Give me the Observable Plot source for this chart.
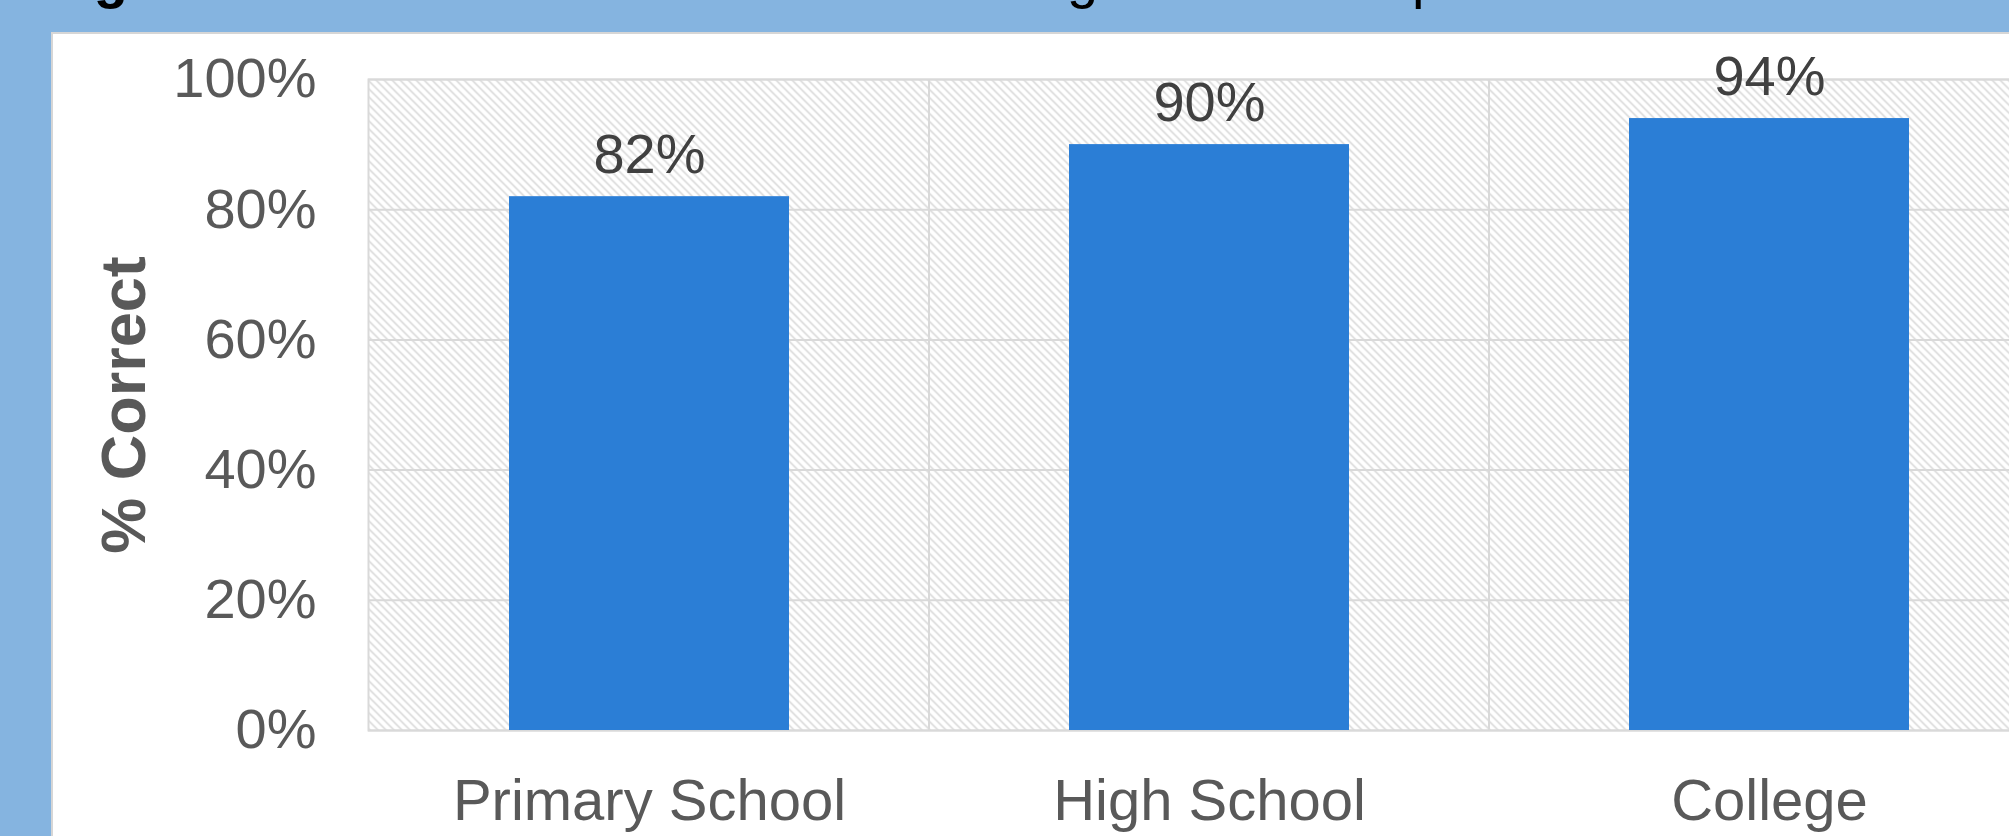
<!DOCTYPE html>
<html><head><meta charset="utf-8">
<script src="https://cdn.jsdelivr.net/npm/d3@7"></script>
<script src="https://cdn.jsdelivr.net/npm/@observablehq/plot@0.6"></script>
<style>
html,body{margin:0;padding:0;width:2009px;height:836px;overflow:hidden;background:#85B4E0;font-family:"Liberation Sans",Arial,sans-serif;}
#panel{position:absolute;left:51px;top:32px;width:2100px;height:900px;background:#fff;border:2px solid #d6d6d6;box-sizing:border-box;}
#title{position:absolute;left:44px;top:-50px;font-size:56px;line-height:56px;white-space:nowrap;color:#000;word-spacing:4px;}
#chart{position:absolute;left:0;top:0;width:2049px;}
#chart svg{max-width:none !important;}
</style></head><body>
<div id="panel"></div>
<div id="title"><b>Figure 3.</b> Overall scores on the knowledge test items per school</div>
<div id="chart"></div>
<script>
const categories = ["Primary School", "High School", "College"];
const values = [0.82, 0.90, 0.94];
const yTicks = [0, 0.2, 0.4, 0.6, 0.8, 1.0];
const yLabel = "% Correct";
const data = categories.map((c, i) => ({category: c, value: values[i]}));
const pct = d3.format(".0%");

function categoryBoundaries(index, scales, values, dimensions) {
  const x = scales.x;
  const step = x(categories[1]) - x(categories[0]);
  const bw = x.bandwidth ? x.bandwidth() : step * 0.5;
  const g = d3.create("svg:g").attr("aria-label", "category grid");
  const y0 = dimensions.marginTop, y1 = dimensions.height - dimensions.marginBottom;
  categories.slice(1).forEach(c => {
    const xx = x(c) - (step - bw) / 2;
    g.append("line").attr("x1", xx).attr("x2", xx).attr("y1", y0).attr("y2", y1)
      .attr("stroke", "#d9d9d9").attr("stroke-width", 2);
  });
  return g.node();
}

const chart = Plot.plot({
  width: 2049, height: 836,
  marginLeft: 368, marginRight: 0, marginTop: 79, marginBottom: 106,
  style: {background: "transparent", fontFamily: "Liberation Sans, Arial, sans-serif", overflow: "visible", maxWidth: "none"},
  x: {domain: categories, paddingInner: 0.5, paddingOuter: 0.25, label: null},
  y: {domain: [0, 1], ticks: yTicks, tickFormat: pct, label: null},
  marks: [
    Plot.frame({fill: "url(#hatch)", stroke: null}),
    Plot.gridY(yTicks, {stroke: "#d9d9d9", strokeOpacity: 1, strokeWidth: 2}),
    categoryBoundaries,
    Plot.frame({stroke: "#d9d9d9", strokeWidth: 2}),
    Plot.barY(data, {x: "category", y: "value", fill: "#2B7ED6"}),
    Plot.text(data, {x: "category", y: "value", text: d => pct(d.value), lineAnchor: "bottom", dy: -24, fontSize: 56, fill: "#404040"}),
    Plot.axisY(yTicks, {tickSize: 0, tickPadding: 52, fontSize: 56, fill: "#595959", tickFormat: pct,
      label: yLabel, labelAnchor: "center", labelOffset: 268, labelArrow: "none"}),
    Plot.axisX({tickSize: 0, tickPadding: 48, fontSize: 58, fill: "#595959", label: null})
  ]
});

const svg = d3.select(chart);
const defs = svg.insert("defs", ":first-child");
const pat = defs.append("pattern").attr("id", "hatch").attr("patternUnits", "userSpaceOnUse")
  .attr("width", 8).attr("height", 8);
pat.append("rect").attr("width", 8).attr("height", 8).attr("fill", "#ffffff");
pat.append("path").attr("d", "M0,0L8,8M-1,7L1,9M7,-1L9,1").attr("stroke", "#d4d4d4").attr("stroke-width", 1.4);

svg.selectAll('g[aria-label="y-axis label"] text')
  .attr("font-size", 63).attr("font-weight", "bold").attr("fill", "#595959");

document.getElementById("chart").appendChild(chart);
</script>
</body></html>
